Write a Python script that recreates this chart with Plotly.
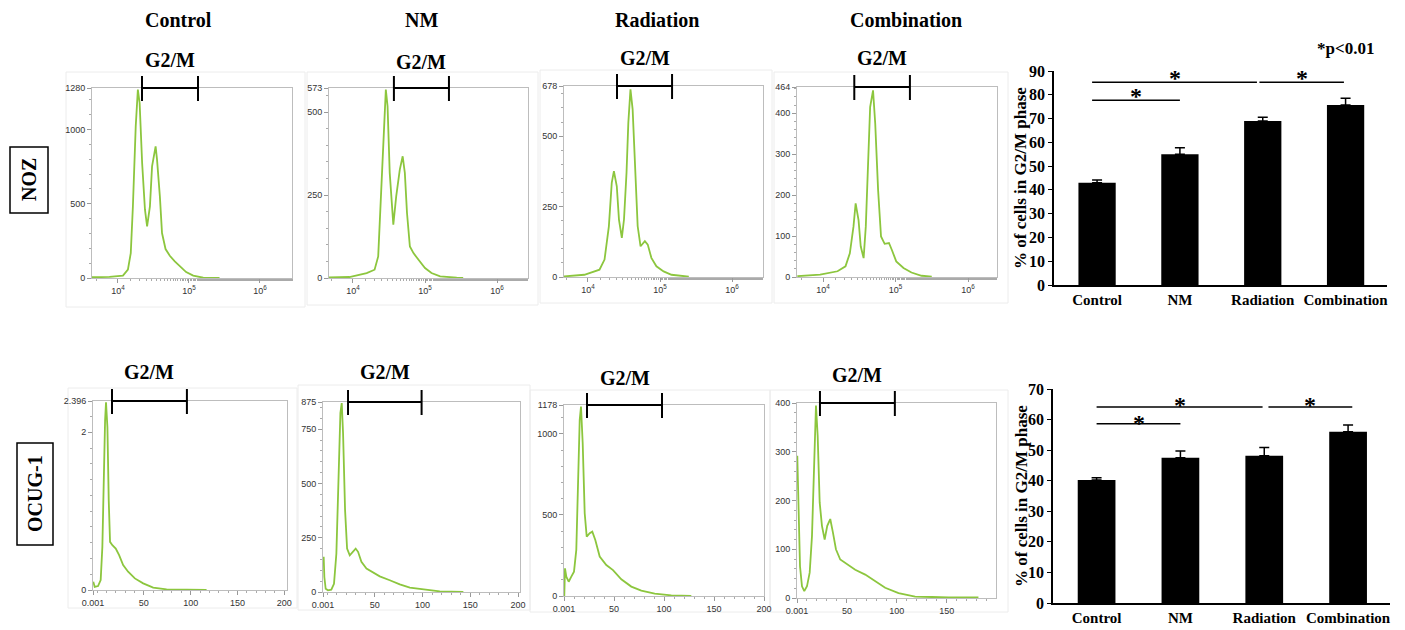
import math
import plotly.graph_objects as go

# ---------------- DATA ----------------
conditions = ["Control", "NM", "Radiation", "Combination"]
cell_lines = ["NOZ", "OCUG-1"]

# NOZ histograms (DNA content, log scale) : x = fluorescence, y = count
noz_control_x = [4270, 7590, 11750, 13800, 15140, 16220, 17780, 19050, 20180, 21880, 23990, 25700, 28180,
                 30200, 33880, 35480, 38900, 41690, 46770, 53700, 63100, 74130, 91200, 114800, 158500, 269200]
noz_control_y = [5, 7, 16, 56, 168, 483, 1022, 1269, 1179, 775, 460, 348, 483,
                 752, 887, 797, 550, 303, 195, 150, 112, 79, 40, 16, 2, 0]
noz_nm_x = [4620, 8910, 15490, 19950, 22390, 23990, 26300, 28580, 30200, 32360, 36310, 39810, 44670,
            48980, 52480, 56230, 61660, 69180, 81280, 100000, 123000, 162200, 275400, 338800]
noz_nm_y = [2, 3, 15, 25, 65, 196, 417, 568, 518, 317, 161, 246, 327,
            367, 317, 196, 95, 75, 55, 30, 15, 5, 1, 0]
noz_rad_x = [4620, 8910, 14450, 16980, 19500, 21380, 22910, 25120, 26920, 29510, 31620, 34280, 36310,
             38900, 41690, 44670, 48980, 53700, 61660, 67610, 75860, 89130, 112200, 144500, 251200]
noz_rad_y = [2, 8, 26, 62, 180, 334, 376, 322, 204, 139, 204, 370, 547,
             666, 595, 393, 180, 109, 127, 115, 68, 38, 20, 8, 1]
noz_comb_x = [4420, 9120, 15850, 20420, 23440, 26300, 28180, 30900, 33110, 36310, 38900, 42660, 44670,
              48980, 52480, 57540, 63100, 70790, 81280, 89130, 102300, 128800, 166000, 229100, 316200]
noz_comb_y = [2, 6, 14, 26, 58, 123, 180, 139, 75, 46, 123, 294, 415,
              456, 375, 212, 99, 81, 83, 66, 38, 22, 11, 3, 1]

# OCUG-1 histograms (linear scale)
ocug_control_x = [-4.0, -2.5, 1.1, 3.9, 5.7, 7.1, 8.6, 9.6, 11.1, 12.5, 13.9, 16.4, 20, 23.6, 27.9,
                  33.2, 40.4, 49.3, 60, 74.3, 92, 117]
ocug_control_y = [0.105, 0.04, 0.05, 0.126, 0.547, 1.43, 2.147, 2.379, 2.063, 1.137, 0.61, 0.568, 0.526,
                  0.442, 0.316, 0.232, 0.147, 0.084, 0.03, 0.008, 0.002, 0]
ocug_nm_x = [-3.5, -2.8, -1.4, 1.0, 4.5, 7.3, 9.8, 11.9, 14, 15.4, 16.8, 18.9, 21, 23.8, 27.3, 30, 32.5,
             36, 41.3, 48.3, 55.2, 65.7, 76.2, 86.7, 100.7, 118, 142.7]
ocug_nm_y = [162, 69, 15, 8, 11, 38, 177, 531, 824, 870, 731, 377, 200, 169, 185, 200, 185,
             139, 108, 88, 72, 54, 35, 20, 11, 3, 0]
ocug_rad_x = [0.3, 1, 2.3, 4.7, 7.3, 10, 12.3, 14, 15.7, 17, 18.7, 20.7, 22.7, 25.7, 28.3, 31.3, 35.7,
              42.3, 49, 57.3, 67.3, 77.3, 90.7, 107.3, 127.3]
ocug_rad_y = [0, 171, 119, 88, 119, 150, 284, 674, 1085, 1168, 942, 510, 366, 387, 397, 345, 243,
              191, 160, 103, 58, 33, 14, 4, 0]
ocug_comb_x = [0.3, 1.7, 3, 5, 7.3, 10, 12.7, 15, 17, 19, 20.7, 22.7, 25, 27.7, 30.3, 33.3, 36, 39,
               43.3, 50, 58.3, 68.3, 78.3, 88.3, 101.7, 118.3, 135, 151.7, 181.7]
ocug_comb_y = [292, 182, 65, 24, 14, 24, 52, 127, 285, 395, 333, 196, 148, 120, 148, 162, 134, 100,
               79, 69, 58, 48, 34, 21, 10, 3, 2, 1, 1]

# y tick labels of each histogram (top value = axis maximum)
noz_yticks = [[0, 500, 1000, 1280], [0, 250, 500, 573], [0, 250, 500, 678], [0, 100, 200, 300, 400, 464]]
ocug_yticks = [[0, 2, 2.396], [0, 250, 500, 750, 875], [0, 500, 1000, 1178], [0, 100, 200, 300, 400]]
noz_xticks = [10000, 100000, 1000000]
noz_xticklabels = ["10<sup>4</sup>", "10<sup>5</sup>", "10<sup>6</sup>"]
ocug_xticklabels = ["0.001", "50", "100", "150", "200"]

# G2/M gates
noz_gates = [[21800, 134000], [37000, 215000], [25300, 147000], [27000, 158000]]
ocug_gates = [[16, 96], [22, 99], [23, 98], [23, 98]]

# Bar charts: % of cells in G2/M phase
noz_pct = [43.0, 55.0, 69.0, 75.7]
noz_err = [1.2, 2.7, 1.5, 2.8]
ocug_pct = [40.2, 47.5, 48.2, 56.0]
ocug_err = [0.8, 2.2, 2.7, 2.2]
sig_pairs = [(0, 1), (0, 2), (2, 3)]
noz_sig_y = [77.7, 85.3, 85.3]
ocug_sig_y = [58.6, 64.1, 64.1]

# ---------------- LAYOUT HELPERS ----------------
# the page body has an 8px margin: the figure covers window pixels 8..1405 and 8..630
OX, OY = 8, 8
W, H = 1397, 622
def px(x):
    return (x - OX) / W
def py(y):
    return 1 - (y - OY) / H

GREEN = "#8cc63e"
SANS = "Liberation Sans"
SERIF = "Liberation Serif"

# panel boxes in window pixels: (left, top, right, bottom), axis x-range, log?
hist_panels = [
    dict(box=(92, 88, 292, 278), xr=(3.634, 6.451), log=True),
    dict(box=(329, 88, 528, 278), xr=(3.667, 6.43), log=True),
    dict(box=(564, 86, 763, 277), xr=(3.667, 6.43), log=True),
    dict(box=(797, 87, 997, 277), xr=(3.641, 6.40), log=True),
    dict(box=(93, 401, 287, 590), xr=(-4.3, 202.9), log=False),
    dict(box=(323, 402, 520, 592), xr=(-4.2, 202), log=False),
    dict(box=(564, 405, 764, 596), xr=(0, 200), log=False),
    dict(box=(797, 403, 996, 598), xr=(0, 199.3), log=False),
]
frames = [(66, 72, 305, 307), (307, 72, 538, 305), (540, 70, 772, 303), (774, 72, 1008, 303),
          (68, 388, 297, 608), (298, 385, 530, 610), (530, 390, 770, 612), (770, 390, 1008, 612)]
minor_dticks = [100, 50, 50, 20, 0.2, 50, 100, 20]
label_lift = [28, 26, 28, 29, 29, 30, 27, 28]

hist_x = [noz_control_x, noz_nm_x, noz_rad_x, noz_comb_x, ocug_control_x, ocug_nm_x, ocug_rad_x, ocug_comb_x]
hist_y = [noz_control_y, noz_nm_y, noz_rad_y, noz_comb_y, ocug_control_y, ocug_nm_y, ocug_rad_y, ocug_comb_y]
yticks = noz_yticks + ocug_yticks
gates = noz_gates + ocug_gates

fig = go.Figure()
layout = dict(width=W, height=H, margin=dict(l=0, r=0, t=0, b=0, autoexpand=False), showlegend=False,
              plot_bgcolor="white", paper_bgcolor="white")
shapes = []
annotations = []

def axkey(kind, i):
    return kind + ("" if i == 1 else str(i))

for i, p in enumerate(hist_panels, start=1):
    L, T, R, B = p["box"]
    xk, yk = axkey("xaxis", i), axkey("yaxis", i)
    xref, yref = axkey("x", i), axkey("y", i)
    ymax = yticks[i - 1][-1]
    fig.add_trace(go.Scatter(x=hist_x[i - 1], y=hist_y[i - 1], mode="lines",
                             line=dict(color=GREEN, width=1.8), xaxis=xref, yaxis=yref,
                             hoverinfo="skip"))
    common = dict(showgrid=False, zeroline=False, showline=True, mirror=True, linecolor="#bdbdbd",
                  linewidth=1, ticks="outside", ticklen=4, tickcolor="#999", automargin=False,
                  tickfont=dict(family=SANS, size=9, color="#333"))
    if p["log"]:
        xa = dict(type="log", range=list(p["xr"]), tickvals=noz_xticks, ticktext=noz_xticklabels,
                  minor=dict(ticks="outside", ticklen=2, tickcolor="#aaa"), **common)
    else:
        xa = dict(range=list(p["xr"]), tickvals=[p["xr"][0], 50, 100, 150, 200], ticktext=ocug_xticklabels,
                  minor=dict(ticks="outside", ticklen=2, tickcolor="#aaa", dtick=10), **common)
    xa["domain"] = [px(L), px(R)]
    xa["anchor"] = yref
    ya = dict(range=[0, ymax], tickvals=yticks[i - 1], ticktext=[str(v) for v in yticks[i - 1]],
              minor=dict(ticks="outside", ticklen=2, tickcolor="#aaa", dtick=minor_dticks[i - 1]),
              domain=[py(B), py(T)], anchor=xref, **common)
    layout[xk] = xa
    layout[yk] = ya

    # faint panel frame
    fl, ft, fr, fb = frames[i - 1]
    shapes.append(dict(type="rect", xref="paper", yref="paper", x0=px(fl), x1=px(fr), y0=py(fb), y1=py(ft),
                       line=dict(color="#ececec", width=1), layer="below"))

    # G2/M gate bracket
    def to_paper(v):
        t = math.log10(v) if p["log"] else v
        f = (t - p["xr"][0]) / (p["xr"][1] - p["xr"][0])
        return px(L) + f * (px(R) - px(L))
    g0, g1 = (to_paper(v) for v in gates[i - 1])
    yl = py(T)
    for (a, b, c, d) in [(g0, yl, g1, yl), (g0, py(T - 12), g0, py(T + 13)), (g1, py(T - 12), g1, py(T + 13))]:
        shapes.append(dict(type="line", xref="paper", yref="paper", x0=a, y0=b, x1=c, y1=d,
                           line=dict(color="black", width=2)))
    annotations.append(dict(text="<b>G2/M</b>", x=(g0 + g1) / 2, y=py(T - label_lift[i - 1]),
                            xref="paper", yref="paper", showarrow=False, xanchor="center", yanchor="middle",
                            font=dict(family=SERIF, size=20, color="black")))

# ---------------- BAR CHARTS ----------------
bar_specs = [
    dict(idx=9, box=(1054, 71, 1387, 285), yr=90, vals=noz_pct, err=noz_err, sig=noz_sig_y,
         spans=[(-0.06, 1.0), (-0.06, 1.93), (1.96, 2.98)], star_y=[81.5, 89.0], tcy=178),
    dict(idx=10, box=(1053, 389, 1390, 603), yr=70, vals=ocug_pct, err=ocug_err, sig=ocug_sig_y,
         spans=[(0.0, 1.0), (0.0, 1.98), (2.05, 3.05)], star_y=[60.6, 66.5], tcy=496),
]
for b in bar_specs:
    i = b["idx"]
    L, T, R, B = b["box"]
    xref, yref = f"x{i}", f"y{i}"
    fig.add_trace(go.Bar(x=conditions, y=b["vals"], marker=dict(color="black", line=dict(width=0)),
                         width=0.45, xaxis=xref, yaxis=yref,
                         error_y=dict(type="data", array=b["err"], arrayminus=[0] * 4, symmetric=False,
                                      color="black", thickness=1.5, width=5)))
    layout[f"xaxis{i}"] = dict(domain=[px(L), px(R)], anchor=yref, range=[-0.52, 3.5], showline=True,
                               linecolor="black", linewidth=1.5, ticks="", showgrid=False, automargin=False,
                               tickfont=dict(family=SERIF, size=15, color="black", weight="bold"))
    layout[f"yaxis{i}"] = dict(domain=[py(B), py(T)], anchor=xref, range=[0, b["yr"]], dtick=10,
                               showline=True, linecolor="black", linewidth=1.5, ticks="outside",
                               ticklen=4, tickcolor="black", showgrid=False, zeroline=False, automargin=False,
                               tickfont=dict(family=SERIF, size=16, color="black", weight="bold"))
    for (x0, x1), yv in zip(b["spans"], b["sig"]):
        shapes.append(dict(type="line", xref=xref, yref=yref, x0=x0, x1=x1, y0=yv, y1=yv,
                           line=dict(color="black", width=1.5)))
    star_pos = [((b["spans"][0][0] + b["spans"][0][1]) / 2, b["star_y"][0]),
                ((b["spans"][1][0] + b["spans"][1][1]) / 2, b["star_y"][1]),
                ((b["spans"][2][0] + b["spans"][2][1]) / 2, b["star_y"][1])]
    for sx, sy in star_pos:
        annotations.append(dict(text="<b>*</b>", x=sx, y=sy, xref=xref, yref=yref, showarrow=False,
                                xanchor="center", yanchor="middle", yshift=-5,
                                font=dict(family=SERIF, size=24, color="black")))
    annotations.append(dict(text="<b>% of cells in G2/M phase</b>", x=px(1021), y=py(b["tcy"]),
                            xref="paper", yref="paper", textangle=-90, showarrow=False,
                            xanchor="center", yanchor="middle",
                            font=dict(family=SERIF, size=17, color="black")))

annotations.append(dict(text="<b>*p<0.01</b>", x=px(1345), y=py(48), xref="paper", yref="paper",
                        showarrow=False, xanchor="center", yanchor="middle",
                        font=dict(family=SERIF, size=17, color="black")))

# column titles
for name, cx in zip(conditions, [178, 421, 657, 906]):
    annotations.append(dict(text=f"<b>{name}</b>", x=px(cx), y=py(20), xref="paper", yref="paper",
                            showarrow=False, xanchor="center", yanchor="middle",
                            font=dict(family=SERIF, size=20, color="black")))

# row labels with boxes
for name, (bl, bt, br, bb) in zip(cell_lines, [(10, 147, 48, 213), (17, 443, 53, 545)]):
    shapes.append(dict(type="rect", xref="paper", yref="paper", x0=px(bl), x1=px(br), y0=py(bb), y1=py(bt),
                       line=dict(color="black", width=1.5)))
    annotations.append(dict(text=f"<b>{name}</b>", x=px((bl + br) / 2), y=py((bt + bb) / 2),
                            xref="paper", yref="paper", textangle=-90, showarrow=False,
                            xanchor="center", yanchor="middle",
                            font=dict(family=SERIF, size=20, color="black")))

layout["shapes"] = shapes
layout["annotations"] = annotations
fig.update_layout(**layout)
fig.write_html("out.html")
